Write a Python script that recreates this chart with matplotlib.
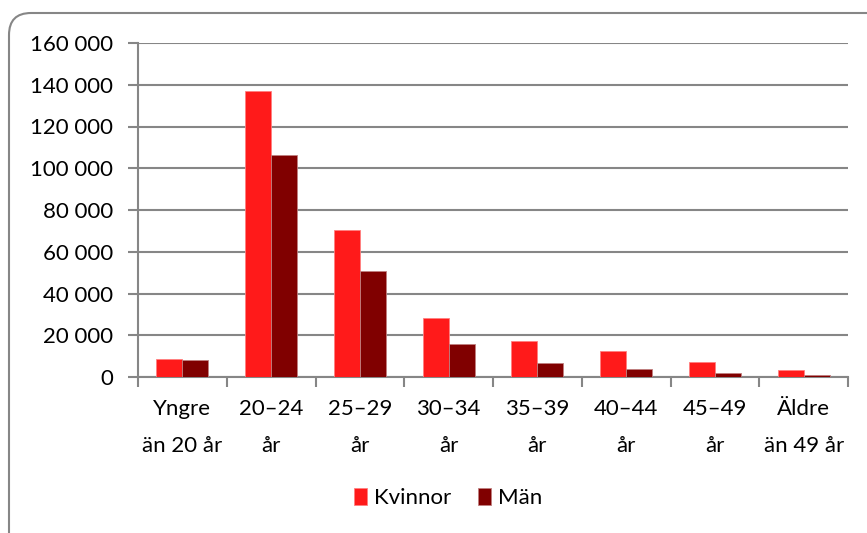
import matplotlib.pyplot as plt
import numpy as np
from matplotlib.patches import FancyBboxPatch
from matplotlib.ticker import FuncFormatter

plt.rcParams['font.family'] = ['Lato', 'DejaVu Sans']

categories = ['Yngre\nän 20 år', '20–24\når', '25–29\når', '30–34\når',
              '35–39\når', '40–44\når', '45–49\når', 'Äldre\nän 49 år']
kvinnor = [8600, 136900, 70200, 28400, 17400, 12600, 7300, 3350]
man = [8100, 106200, 51000, 15600, 6600, 3800, 2000, 1100]

red = '#ff1a1a'
darkred = '#800000'
grey = '#868686'

fig = plt.figure(figsize=(8.67, 5.33), dpi=100)

# rounded chart frame (cut by the image edge on right and bottom)
frame = FancyBboxPatch((0.09, -1.0), 10.0, 5.33 - 0.13 + 1.0,
                       boxstyle='round,pad=0,rounding_size=0.22',
                       transform=fig.dpi_scale_trans, facecolor='white',
                       edgecolor=grey, linewidth=1.5, zorder=-5)
fig.patches.append(frame)

ax = fig.add_axes([138 / 867, 1 - 377 / 533, (848 - 138) / 867, (377 - 43) / 533])
ax.patch.set_alpha(0)

x = np.arange(len(categories))
w = 0.293
ax.bar(x - w / 2, kvinnor, w, color=red, edgecolor='#ff8080', linewidth=0.6,
       label='Kvinnor', zorder=3)
ax.bar(x + w / 2, man, w, color=darkred, edgecolor='#c08080', linewidth=0.6,
       label='Män', zorder=3)

ax.set_xlim(-0.5, len(categories) - 0.5)
ax.set_ylim(0, 160000)
ax.set_yticks(np.arange(0, 160001, 20000))
ax.yaxis.set_major_formatter(FuncFormatter(lambda v, p: f'{int(v):,}'.replace(',', ' ')))
ax.grid(axis='y', color=grey, linewidth=1.5, zorder=0)

ax.set_xticks(np.arange(-0.5, len(categories), 1.0))
ax.set_xticklabels([])
ax.set_xticks(x, minor=True)
ax.set_xticklabels(categories, minor=True, fontsize=16, linespacing=2.05)
ax.tick_params(axis='x', which='major', length=7, width=1.5, color=grey)
ax.tick_params(axis='x', which='minor', length=0, pad=16)
ax.tick_params(axis='y', length=7, width=1.5, color=grey, labelsize=16, pad=11)

for s in ['top', 'right']:
    ax.spines[s].set_visible(False)
for s in ['left', 'bottom']:
    ax.spines[s].set_color(grey)
    ax.spines[s].set_linewidth(1.5)

fig.legend(loc='center', bbox_to_anchor=(448 / 867, 1 - 498 / 533), ncol=2,
           frameon=False, fontsize=16, handlelength=0.6, handleheight=0.8,
           handletextpad=0.3, columnspacing=1.2)

fig.savefig('out.png', dpi=100)
